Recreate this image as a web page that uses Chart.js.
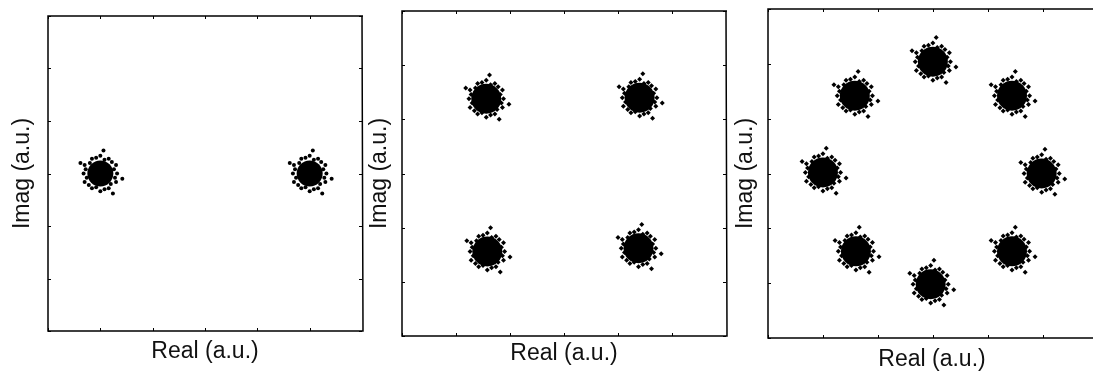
<!DOCTYPE html>
<html>
<head>
<meta charset="utf-8">
<script src="https://cdn.jsdelivr.net/npm/chart.js@4.4.1/dist/chart.umd.min.js"></script>
<style>
  html, body { margin: 0; background: #fff; }
  #stage { position: relative; width: 1093px; height: 374px; overflow: hidden; }
  #stage canvas { position: absolute; top: 0; }
</style>
</head>
<body>
<div id="stage">
  <canvas id="bpsk" width="370" height="374" style="left:0"></canvas>
  <canvas id="qpsk" width="364" height="374" style="left:364px"></canvas>
  <canvas id="psk8" width="363" height="374" style="left:730px"></canvas>
</div>
<script>
// tick positions (no labels shown), same on both axes
const axisTicks = [-1.5, -1, -0.5, 0, 0.5, 1, 1.5];
// the third plot is cut off by the page edge just before x = 1.5
const psk8MaxRe = 1.457;

// symbol centres (a.u.)
const bpskRe = [-1.0, 1.0];
const bpskIm = [0.0, 0.0];
const qpskRe = [-0.72, 0.70, -0.71, 0.69];
const qpskIm = [0.69, 0.70, -0.72, -0.69];
const psk8Re = [0.0, 0.72, 0.99, 0.72, -0.02, -0.70, -1.0, -0.71];
const psk8Im = [1.02, 0.71, 0.0, -0.71, -1.01, -0.71, 0.01, 0.71];

// ragged edge of a cluster, offsets from its centre (a.u.)
const spreadRe = [0.16, 0.13, 0.15, 0.11, 0.08, 0.04, 0.00, -0.04, -0.08, -0.10, -0.15, -0.14,
                  -0.16, -0.13, -0.15, -0.11, -0.08, -0.04, 0.00, 0.04, 0.08, 0.10, 0.15, 0.14,
                  0.03, -0.19, 0.12, 0.21];
const spreadIm = [0.00, 0.04, 0.08, 0.11, 0.14, 0.13, 0.17, 0.15, 0.14, 0.10, 0.08, 0.04,
                  0.00, -0.04, -0.08, -0.11, -0.14, -0.13, -0.17, -0.15, -0.14, -0.10, -0.08, -0.04,
                  0.22, 0.10, -0.19, -0.05];

function symbols(re, im) {
  return re.map((x, i) => ({ x: x, y: im[i] }));
}

function cloud(re, im) {
  const pts = [];
  re.forEach((x, i) => {
    spreadRe.forEach((dx, k) => pts.push({ x: x + dx, y: im[i] + spreadIm[k] }));
  });
  return pts;
}

// box, inward ticks on all four sides, axis titles
const framePlugin = {
  id: "frame",
  afterDraw(chart, args, opts) {
    const { ctx, chartArea: a, scales } = chart;
    ctx.save();
    ctx.strokeStyle = "#000";
    ctx.lineWidth = 1.5;
    ctx.beginPath();
    ctx.moveTo(a.right + 1, a.top);
    ctx.lineTo(a.left, a.top);
    ctx.lineTo(a.left, a.bottom);
    ctx.lineTo(a.right + 1, a.bottom);
    if (!opts.openRight) ctx.lineTo(a.right, a.top);
    ctx.stroke();

    ctx.lineWidth = 1;
    ctx.beginPath();
    axisTicks.forEach(v => {
      const px = Math.round(scales.x.getPixelForValue(v)) + 0.5;
      if (px < a.right) {
        ctx.moveTo(px, a.bottom); ctx.lineTo(px, a.bottom - 3);
        ctx.moveTo(px, a.top); ctx.lineTo(px, a.top + 3);
      }
      const py = Math.round(scales.y.getPixelForValue(v)) + 0.5;
      ctx.moveTo(a.left, py); ctx.lineTo(a.left + 3, py);
      if (!opts.openRight) { ctx.moveTo(a.right, py); ctx.lineTo(a.right - 3, py); }
    });
    ctx.stroke();

    ctx.fillStyle = "#111";
    ctx.font = '23px "Liberation Sans", Arial, sans-serif';
    ctx.textAlign = "center";
    ctx.textBaseline = "middle";
    ctx.fillText("Real (a.u.)", a.left + opts.xMid, a.bottom + opts.xGap);
    ctx.translate(a.left - opts.yGap, (a.top + a.bottom) / 2);
    ctx.rotate(-Math.PI / 2);
    ctx.fillText("Imag (a.u.)", 0, 0);
    ctx.restore();
  }
};

function makeChart(id, re, im, maxRe, pad, look) {
  return new Chart(document.getElementById(id), {
    type: "scatter",
    data: {
      datasets: [
        { data: symbols(re, im), pointRadius: look.core, backgroundColor: "#000", borderWidth: 0 },
        { data: cloud(re, im), pointStyle: look.marker, pointRadius: look.dot, backgroundColor: "#000", borderWidth: 0 }
      ]
    },
    options: {
      responsive: false,
      animation: false,
      events: [],
      layout: { padding: pad, autoPadding: false },
      plugins: {
        legend: { display: false },
        tooltip: { enabled: false },
        frame: { xGap: look.xGap, yGap: look.yGap, xMid: look.xMid, openRight: look.openRight }
      },
      scales: {
        x: { type: "linear", min: -1.5, max: maxRe, display: false },
        y: { type: "linear", min: -1.5, max: 1.5, display: false }
      }
    },
    plugins: [framePlugin]
  });
}

makeChart("bpsk", bpskRe, bpskIm, 1.5, { left: 48, top: 16, right: 8, bottom: 43 },
  { core: 13, dot: 2, marker: "circle", xGap: 21, yGap: 25, xMid: 157, openRight: false });
makeChart("qpsk", qpskRe, qpskIm, 1.5, { left: 38, top: 11, right: 2, bottom: 38 },
  { core: 15, dot: 2.5, marker: "rectRot", xGap: 18, yGap: 22, xMid: 162, openRight: false });
makeChart("psk8", psk8Re, psk8Im, psk8MaxRe, { left: 38, top: 9, right: 0, bottom: 36 },
  { core: 15, dot: 2.5, marker: "rectRot", xGap: 22, yGap: 22, xMid: 164, openRight: true });
</script>
</body>
</html>
